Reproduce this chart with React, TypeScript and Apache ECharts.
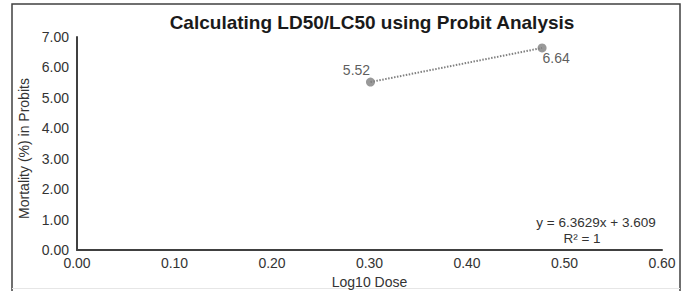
import React, { useEffect, useRef } from "react";
import * as echarts from "echarts";

const logDose = [0.301, 0.477];
const probits = [5.52, 6.64];
const xTicks = { min: 0, max: 0.6, interval: 0.1 };
const yTicks = { min: 0, max: 7, interval: 1 };
const equationText = "y = 6.3629x + 3.609";
const r2Text = "R\u00B2 = 1";
const titleText = "Calculating LD50/LC50 using Probit Analysis";

export default function App() {
  const ref = useRef<HTMLDivElement>(null);
  useEffect(() => {
    if (!ref.current) return;
    const chart = echarts.init(ref.current, undefined, { renderer: "svg" });
    const pts = logDose.map((x, i) => [x, probits[i]]);
    const font = "Liberation Sans, Arial, sans-serif";
    const txt = "#333333";
    chart.setOption({
      animation: false,
      backgroundColor: "#ffffff",
      textStyle: { fontFamily: font },
      title: {
        text: titleText,
        left: 367,
        textAlign: "center",
        top: 8,
        textStyle: { fontSize: 19, fontWeight: "bold", color: "#1a1a1a", fontFamily: font },
      },
      grid: { left: 77, right: 25, top: 37, bottom: 41, outerBoundsMode: "none", containLabel: false },
      xAxis: {
        type: "value",
        min: xTicks.min,
        max: xTicks.max,
        interval: xTicks.interval,
        name: "Log10 Dose",
        nameLocation: "middle",
        nameGap: 25,
        nameTextStyle: { fontSize: 14, color: txt, verticalAlign: "top" },
        axisLine: { show: true, lineStyle: { color: "#404040", width: 2 } },
        axisTick: { show: false },
        splitLine: { show: false },
        axisLabel: {
          fontSize: 14,
          color: txt,
          margin: 6,
          formatter: (v: number) => v.toFixed(2),
        },
      },
      yAxis: {
        type: "value",
        min: yTicks.min,
        max: yTicks.max,
        interval: yTicks.interval,
        name: "Mortality (%) in Probits",
        nameLocation: "middle",
        nameGap: 37,
        nameTextStyle: { fontSize: 14, color: txt, padding: [0, 10, 0, 0] },
        axisLine: { show: true, lineStyle: { color: "#404040", width: 2 } },
        axisTick: { show: false },
        splitLine: { show: false },
        axisLabel: {
          fontSize: 14,
          color: txt,
          margin: 8,
          formatter: (v: number) => v.toFixed(2),
        },
      },
      series: [
        {
          type: "line",
          data: pts,
          symbol: "none",
          lineStyle: { color: "#808080", width: 2, type: [1.5, 1.5] },
          silent: true,
          z: 1,
        },
        {
          type: "scatter",
          z: 2,
          symbolSize: 9,
          itemStyle: { color: "#808080" },
          label: {
            show: true,
            fontSize: 14,
            color: txt,
            formatter: (p: any) => p.value[1].toFixed(2),
          },
          data: [
            { value: pts[0], label: { position: "top", offset: [-14, 4] } },
            { value: pts[1], label: { position: "bottom", offset: [14, -6] } },
          ],
        },
      ],
      graphic: [
        {
          type: "rect",
          shape: { x: 12, y: 4, width: 668, height: 300 },
          style: { fill: "none", stroke: "#404040", lineWidth: 1.5 },
          silent: true,
        },
        {
          type: "line",
          shape: { x1: 12, y1: 288.5, x2: 680, y2: 288.5 },
          style: { stroke: "#e6e6e6", lineWidth: 1 },
          silent: true,
        },
        {
          type: "text",
          x: 596,
          y: 222,
          style: {
            text: equationText,
            fontSize: 13.5,
            fill: txt,
            fontFamily: font,
            align: "center",
            verticalAlign: "middle",
          },
        },
        {
          type: "text",
          x: 582,
          y: 238,
          style: {
            text: r2Text,
            fontSize: 13.5,
            fill: txt,
            fontFamily: font,
            align: "center",
            verticalAlign: "middle",
          },
        },
      ],
    });
    return () => chart.dispose();
  }, []);
  return (
    <div
      ref={ref}
      style={{ position: "absolute", left: 0, top: 0, width: 687, height: 291 }}
    />
  );
}
